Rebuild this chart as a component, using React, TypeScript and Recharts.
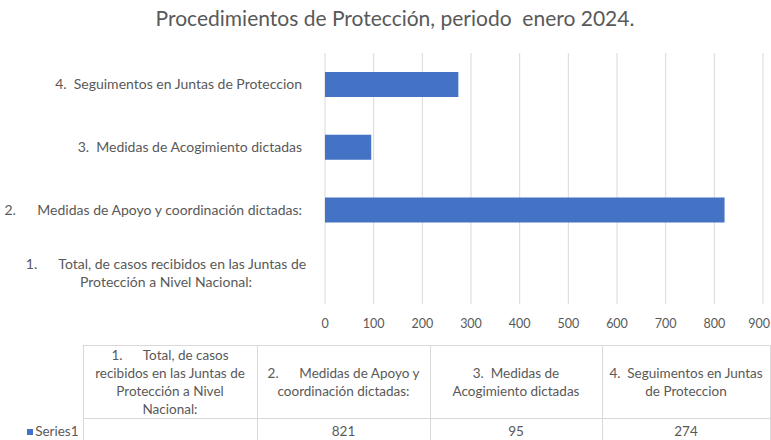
import { BarChart, Bar, XAxis, YAxis, CartesianGrid } from "recharts";

const categories = [
  "1.      Total, de casos recibidos en las Juntas de Protección a Nivel Nacional:",
  "2.      Medidas de Apoyo y coordinación dictadas:",
  "3.  Medidas de Acogimiento dictadas",
  "4.  Seguimentos en Juntas de Proteccion",
];
const series1: (number | null)[] = [null, 821, 95, 274];
const xTicks = [0, 100, 200, 300, 400, 500, 600, 700, 800, 900];

// how each category name breaks on the axis and in the data table
const axisLines = [
  ["1.      Total, de casos recibidos en las Juntas de", "Protección a Nivel Nacional:"],
  ["2.      Medidas de Apoyo y coordinación dictadas:"],
  ["3.  Medidas de Acogimiento dictadas"],
  ["4.  Seguimentos en Juntas de Proteccion"],
];
const tableLines = [
  ["1.      Total, de casos", "recibidos en las Juntas de", "Protección a Nivel", "Nacional:"],
  ["2.      Medidas de Apoyo y", "coordinación dictadas:"],
  ["3.  Medidas de", "Acogimiento dictadas"],
  ["4.  Seguimentos en Juntas", "de Proteccion"],
];

const data = categories.map((c, i) => ({ name: c, value: series1[i] }));

const FONT = "Lato, 'Open Sans', sans-serif";
const GRAY = "#595959";
const BLUE = "#4472C4";
const LINE = "#d9d9d9";

function CategoryTick({ x, y, payload }: any) {
  const i = categories.indexOf(payload.value);
  const lines = axisLines[i] ?? [payload.value];
  if (lines.length > 1) {
    return (
      <text x={166} y={y} fill={GRAY} fontSize={14} fontFamily={FONT} textAnchor="middle" style={{ whiteSpace: "pre" }}>
        {lines.map((l, k) => (
          <tspan key={k} x={166} dy={k === 0 ? -4 : 18}>
            {l}
          </tspan>
        ))}
      </text>
    );
  }
  return (
    <text x={x - 15} y={y} dy={5} fill={GRAY} fontSize={14} fontFamily={FONT} textAnchor="end" style={{ whiteSpace: "pre" }}>
      {lines[0]}
    </text>
  );
}

function ValueTick({ x, y, payload }: any) {
  // the last label would run past the right edge, so pull it inside
  const last = payload.value === xTicks[xTicks.length - 1];
  return (
    <text x={last ? 770 : x} y={y} dy={9} fill={GRAY} fontSize={12.5} fontFamily={FONT} textAnchor={last ? "end" : "middle"}>
      {payload.value}
    </text>
  );
}

const cell: React.CSSProperties = {
  border: `1px solid ${LINE}`,
  textAlign: "center",
  padding: 0,
  whiteSpace: "pre",
};

export default function App() {
  return (
    <div style={{ position: "absolute", left: 0, top: 0, width: 771, height: 440, background: "#fff", overflow: "hidden", fontFamily: FONT }}>
      <div style={{ position: "absolute", left: 0, top: 5, width: 790, textAlign: "center", fontSize: 21, color: GRAY, whiteSpace: "pre" }}>
        Procedimientos de Protección, periodo  enero 2024.
      </div>
      <BarChart
        width={771}
        height={340}
        data={data}
        layout="vertical"
        margin={{ top: 53, right: 8, bottom: 6, left: 0 }}
        barCategoryGap={0}
      >
        <CartesianGrid horizontal={false} stroke={LINE} />
        <XAxis
          type="number"
          domain={[0, 900]}
          ticks={xTicks}
          axisLine={false}
          tickLine={false}
          height={30}
          tickMargin={9}
          interval={0}
          tick={<ValueTick />}
        />
        <YAxis
          type="category"
          dataKey="name"
          reversed
          width={325}
          axisLine={false}
          tickLine={false}
          interval={0}
          tick={<CategoryTick />}
        />
        <Bar dataKey="value" fill={BLUE} barSize={25} isAnimationActive={false} />
      </BarChart>
      <table
        style={{
          position: "absolute",
          left: 0,
          top: 345,
          borderCollapse: "collapse",
          tableLayout: "fixed",
          fontSize: 13.5,
          color: GRAY,
          fontFamily: FONT,
          lineHeight: "18px",
        }}
      >
        <colgroup>
          <col style={{ width: 83 }} />
          <col style={{ width: 174 }} />
          <col style={{ width: 173 }} />
          <col style={{ width: 172 }} />
          <col style={{ width: 168 }} />
        </colgroup>
        <tbody>
          <tr style={{ height: 73 }}>
            <td style={{ border: "none" }} />
            {tableLines.map((lines, i) => (
              <td key={i} style={cell}>
                {lines.map((l, k) => (
                  <div key={k}>{l}</div>
                ))}
              </td>
            ))}
          </tr>
          <tr style={{ height: 24 }}>
            <td style={{ border: "none", textAlign: "right", paddingRight: 4, whiteSpace: "nowrap" }}>
              <span style={{ display: "inline-block", width: 6, height: 6, background: BLUE, marginRight: 2, verticalAlign: "middle" }} />
              Series1
            </td>
            {series1.map((v, i) => (
              <td key={i} style={cell}>
                {v ?? ""}
              </td>
            ))}
          </tr>
        </tbody>
      </table>
    </div>
  );
}
